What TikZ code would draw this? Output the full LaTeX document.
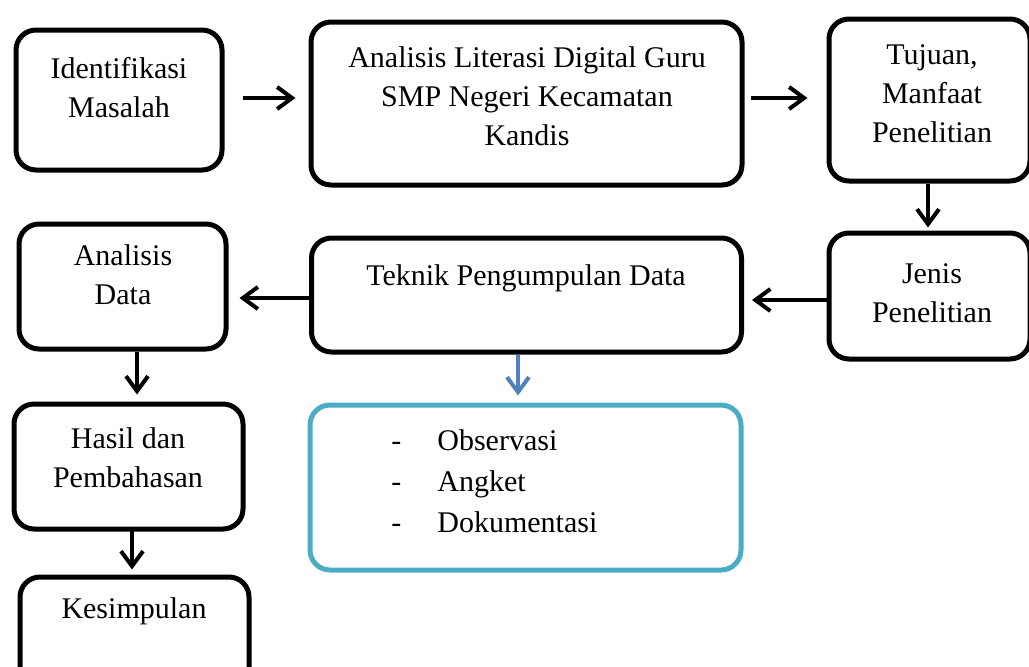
\documentclass[tikz,border=0pt]{standalone}
\usepackage{fontspec}
\setmainfont{Liberation Serif}
\usetikzlibrary{arrows.meta}
\definecolor{boxblue}{HTML}{4BACC6}
\definecolor{arrblue}{HTML}{4F81BD}
\tikzset{
  box/.style = {draw, line width=2.5pt, rounded corners=10pt, inner sep=0pt},
  txt/.style = {font=\fontsize{15}{19.5}\selectfont, align=center, inner sep=0pt, anchor=north},
  arr/.style = {line width=2pt, -{Straight Barb[length=7.5pt,width=11pt]}}
}
\begin{document}
\begin{tikzpicture}[x=0.5pt, y=-0.5pt]
  \clip (0,0) rectangle (1029,666);
  % boxes
  \node [box, minimum width=103pt, minimum height=70pt] (idm) at (119,100) {};
  \node [box, minimum width=215.5pt, minimum height=81.5pt] (ald) at (526.5,103.5) {};
  \node [box, minimum width=100.5pt, minimum height=81pt] (tmp) at (929.5,100) {};
  \node [box, minimum width=100.5pt, minimum height=63pt] (jp) at (929.5,296) {};
  \node [box, minimum width=215pt, minimum height=57pt] (tpd) at (526.5,295) {};
  \node [box, minimum width=103.5pt, minimum height=62.5pt] (ad) at (122.5,286.5) {};
  \node [box, minimum width=114.5pt, minimum height=62.5pt] (hp) at (128.5,466.5) {};
  \node [box, minimum width=114.5pt, minimum height=62pt] (kes) at (134.5,639) {};
  \node [box, draw=boxblue, minimum width=215.5pt, minimum height=82.5pt] (ins) at (525.5,487.5) {};
  % texts
  \node [txt] (idmt) at (119,56.5) {Identifikasi\\Masalah};
  \node [txt] (aldt) at (527,46.5) {Analisis Literasi Digital Guru\\SMP Negeri Kecamatan\\Kandis};
  \node [txt] (tmpt) at (932,44.5) {Tujuan,\\Manfaat\\Penelitian};
  \node [txt] (jpt) at (932,263) {Jenis\\Penelitian};
  \node [txt] (tpdt) at (526,264.5) {Teknik Pengumpulan Data};
  \node [txt] (adt) at (123,244.5) {Analisis\\Data};
  \node [txt] (hpt) at (128,427.5) {Hasil dan\\Pembahasan};
  \node [txt] (kest) at (134,597.5) {Kesimpulan};
  \node [txt, font=\fontsize{15}{20.5}\selectfont, align=left, anchor=north west] (inst) at (391,429.5)
    {\makebox[23pt][l]{-}Observasi\\\makebox[23pt][l]{-}Angket\\\makebox[23pt][l]{-}Dokumentasi};
  % arrows
  \draw [arr, shorten <=9pt, shorten >=6.5pt] ([yshift=1pt]idm.east) -- ([yshift=1pt]idm.east -| ald.west);
  \draw [arr, shorten <=3pt, shorten >=9.5pt] ([yshift=1pt]idm.east -| ald.east) -- ([yshift=1pt]idm.east -| tmp.west);
  \draw [arr, shorten >=1.5pt] ([xshift=-0.75pt]tmp.south) -- ([xshift=-0.75pt]jp.north);
  \draw [arr, shorten >=4pt] ([yshift=-2pt]jp.west) -- ([yshift=-2pt]jp.west -| tpd.east);
  \draw [arr, shorten >=5.5pt] ([yshift=-1.5pt]tpd.west) -- ([yshift=-1.5pt]tpd.west -| ad.east);
  \draw [arr, shorten >=3.5pt] ([xshift=7.25pt]ad.south) -- ([xshift=7.25pt]ad.south |- hp.north);
  \draw [arr, shorten <=-1pt, shorten >=2.5pt] ([xshift=1.75pt]hp.south) -- ([xshift=1.75pt]hp.south |- kes.north);
  \draw [arr, draw=arrblue, shorten >=3.5pt] ([xshift=-4.25pt]tpd.south) -- ([xshift=-4.25pt]tpd.south |- ins.north);
\end{tikzpicture}
\end{document}
